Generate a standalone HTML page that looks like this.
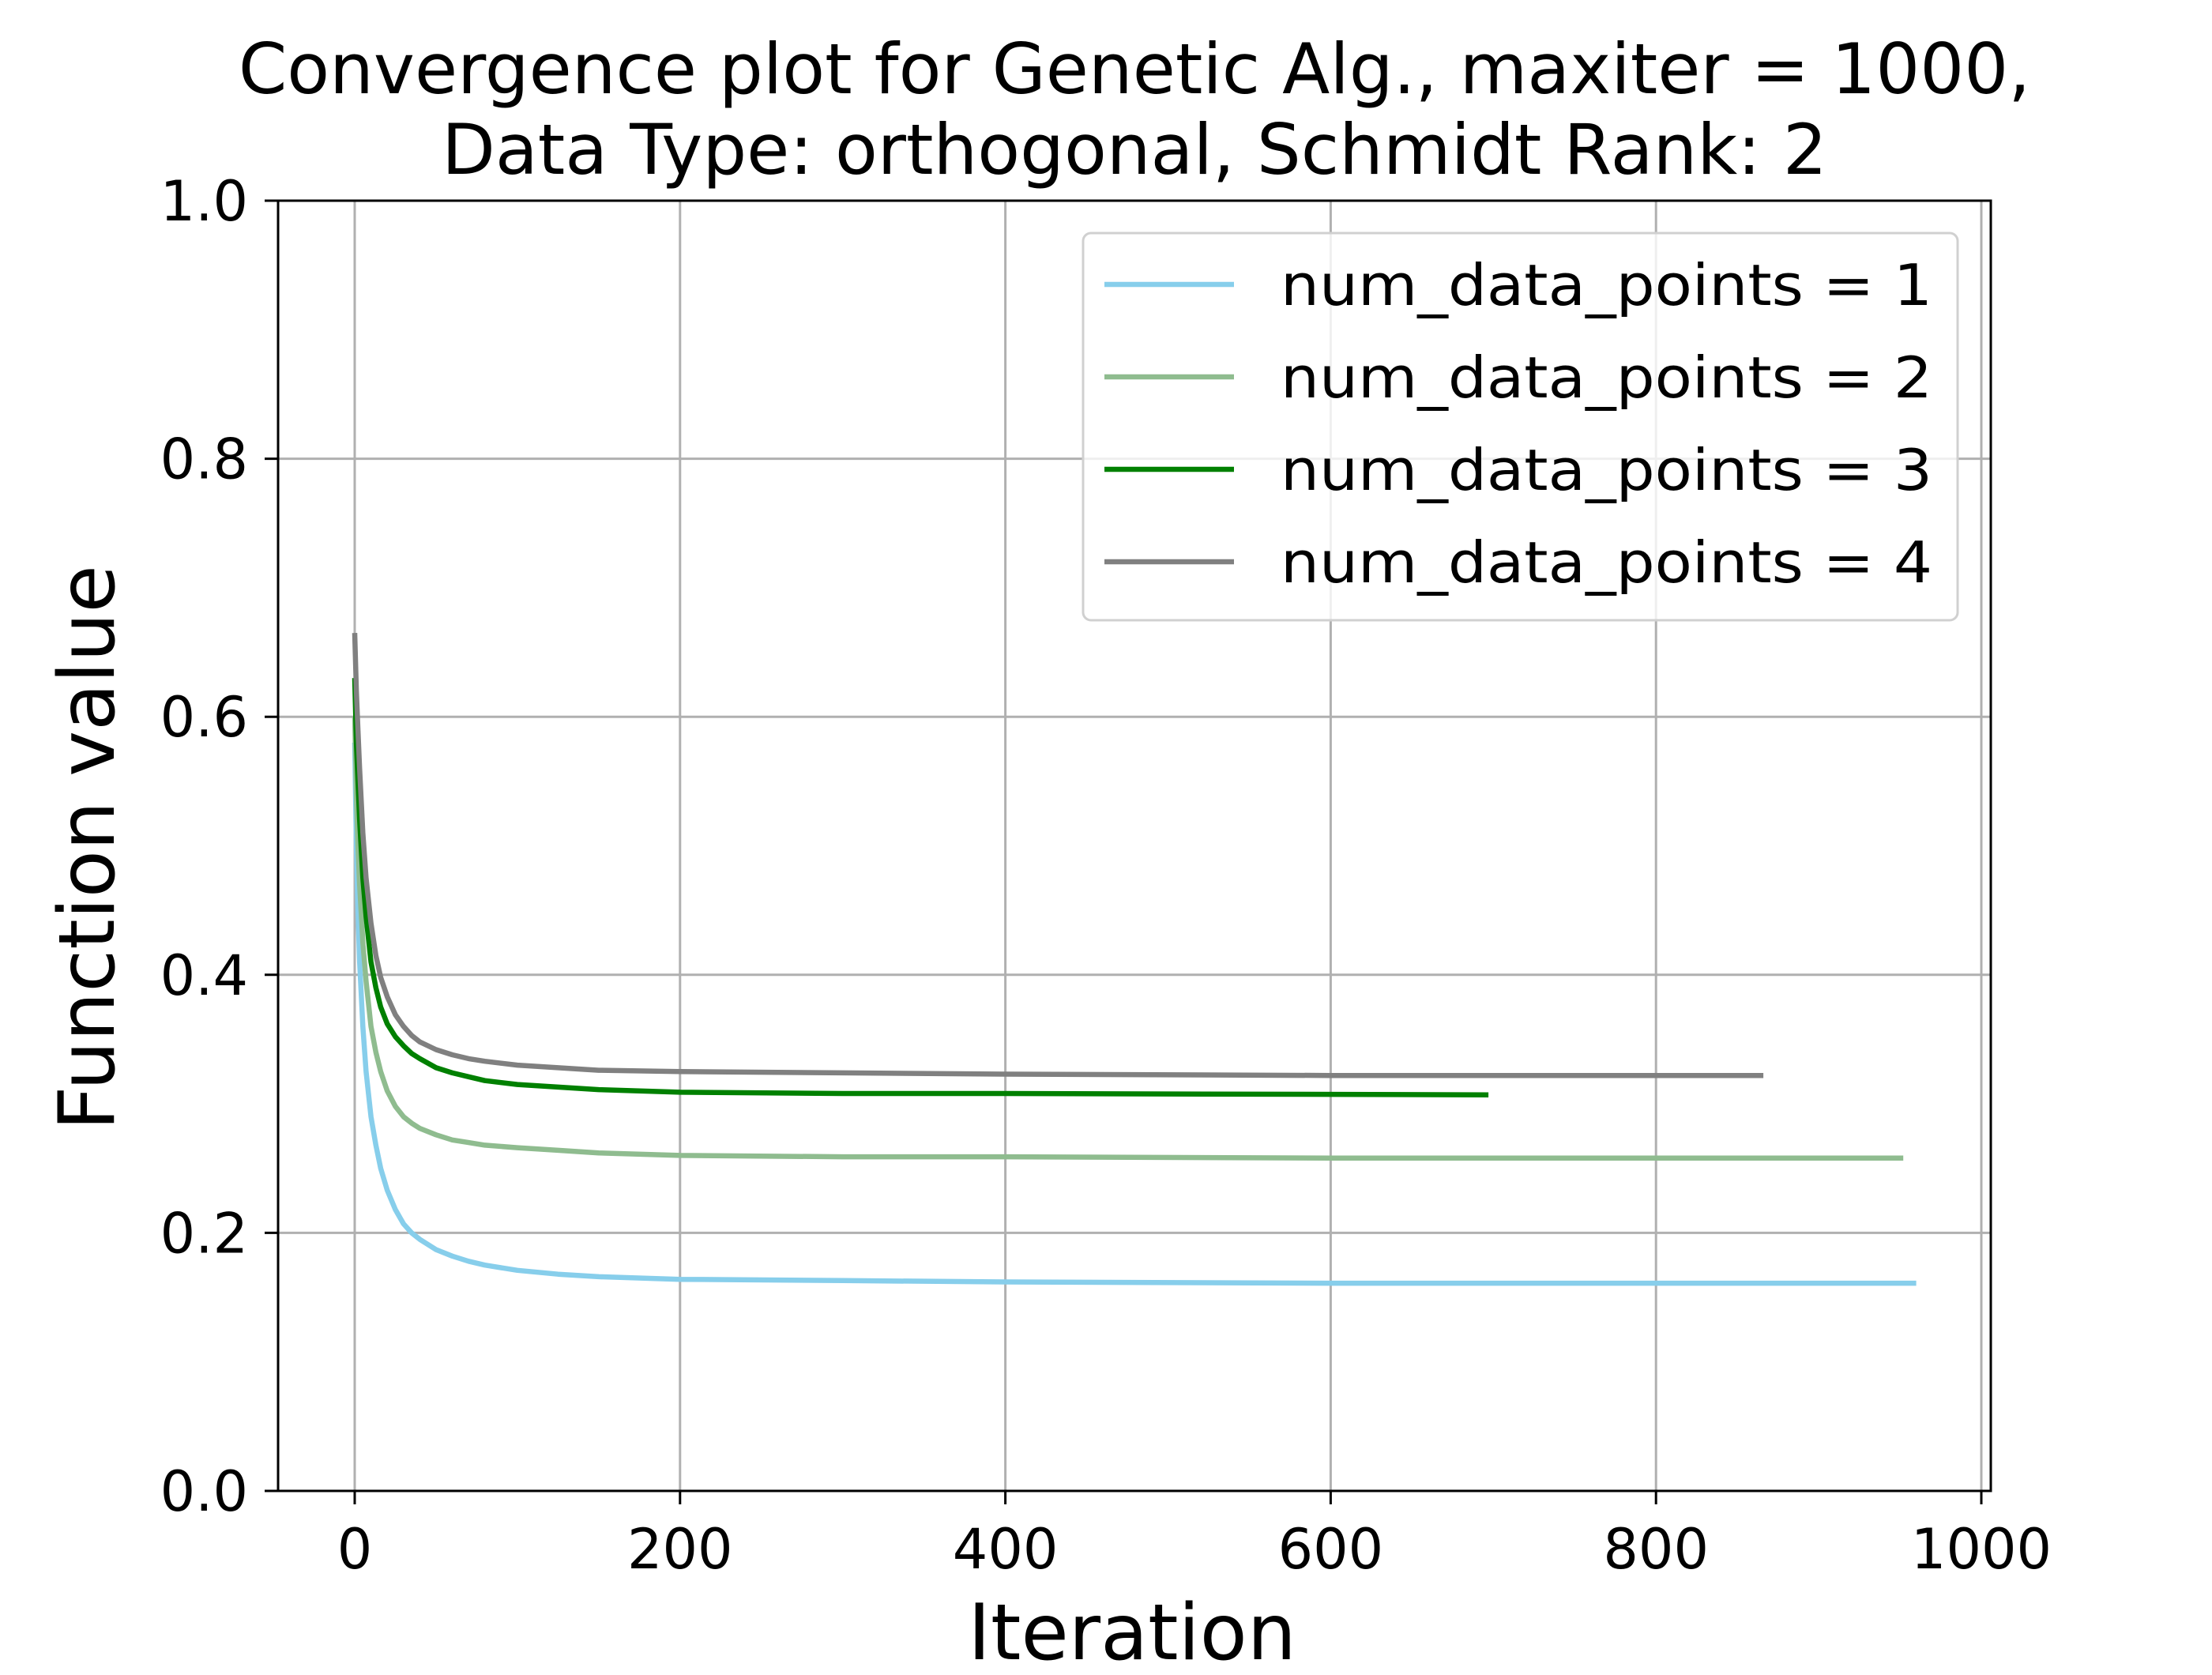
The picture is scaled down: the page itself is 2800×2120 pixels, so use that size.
<!DOCTYPE html>
<html><head><meta charset="utf-8"><style>
html,body{margin:0;padding:0;background:#fff;}
svg{display:block;}
text{font-family:"DejaVu Sans","Liberation Sans",sans-serif;fill:#000;}
</style></head><body>
<svg id="chart" width="2800" height="2120" viewBox="0 0 2800 2120">
<rect width="2800" height="2120" fill="#fff"/>
<text x="1436" y="118" font-size="88" text-anchor="middle">Convergence plot for Genetic Alg., maxiter = 1000,</text>
<text x="1436" y="220" font-size="88" text-anchor="middle">Data Type: orthogonal, Schmidt Rank: 2</text>
<g id="grid"></g>
<g id="series"></g>
<g id="axes"></g>
<text x="1433" y="2100" font-size="98" text-anchor="middle">Iteration</text>
<text transform="translate(144,1073) rotate(-90)" font-size="98" text-anchor="middle">Function value</text>
<g id="legend"></g>
</svg>
<script>
const xTicks = [0, 200, 400, 600, 800, 1000];
const yTicks = [0.0, 0.2, 0.4, 0.6, 0.8, 1.0];
const yTickLabels = ["0.0", "0.2", "0.4", "0.6", "0.8", "1.0"];
const seriesNames = ["num_data_points = 1", "num_data_points = 2", "num_data_points = 3", "num_data_points = 4"];
const seriesColors = ["#87CEEB", "#8FBC8F", "#008000", "#808080"];
const iter1 = [0, 1, 2, 3, 5, 7, 10, 13, 16, 20, 25, 30, 35, 40, 50, 60, 70, 80, 100, 125, 150, 200, 300, 400, 600, 960];
const vals1 = [0.58, 0.50, 0.45, 0.41, 0.36, 0.325, 0.29, 0.268, 0.250, 0.233, 0.218, 0.207, 0.200, 0.195, 0.187, 0.182, 0.178, 0.175, 0.171, 0.168, 0.166, 0.164, 0.163, 0.162, 0.161, 0.161];
const iter2 = [0, 1, 2, 3, 5, 7, 10, 13, 16, 20, 25, 30, 35, 40, 50, 60, 70, 80, 100, 125, 150, 200, 300, 400, 600, 952];
const vals2 = [0.60, 0.54, 0.50, 0.47, 0.425, 0.395, 0.36, 0.340, 0.325, 0.31, 0.298, 0.29, 0.285, 0.281, 0.276, 0.272, 0.270, 0.268, 0.266, 0.264, 0.262, 0.260, 0.259, 0.259, 0.258, 0.258];
const iter3 = [0, 1, 2, 3, 5, 7, 10, 13, 16, 20, 25, 30, 35, 40, 50, 60, 70, 80, 100, 125, 150, 200, 300, 400, 697];
const vals3 = [0.63, 0.58, 0.55, 0.52, 0.475, 0.445, 0.41, 0.39, 0.375, 0.362, 0.352, 0.345, 0.339, 0.335, 0.328, 0.324, 0.321, 0.318, 0.315, 0.313, 0.311, 0.309, 0.308, 0.308, 0.307];
const iter4 = [0, 1, 2, 3, 5, 7, 10, 13, 16, 20, 25, 30, 35, 40, 50, 60, 70, 80, 100, 125, 150, 200, 300, 400, 600, 866];
const vals4 = [0.665, 0.62, 0.59, 0.56, 0.51, 0.475, 0.44, 0.415, 0.398, 0.383, 0.369, 0.36, 0.353, 0.348, 0.342, 0.338, 0.335, 0.333, 0.330, 0.328, 0.326, 0.325, 0.324, 0.323, 0.322, 0.322];

const NS = "http://www.w3.org/2000/svg";
const L = 352, R = 2520, T = 254, B = 1887;
const X0 = 449, X1000 = 2508;
function xs(v){ return X0 + (X1000 - X0) * v / 1000; }
function ys(v){ return B - (B - T) * v; }
function mk(tag, attrs, parent){
  const e = document.createElementNS(NS, tag);
  for (const k in attrs) e.setAttribute(k, attrs[k]);
  parent.appendChild(e); return e;
}
const grid = document.getElementById('grid');
const axes = document.getElementById('axes');
xTicks.forEach((t) => {
  const g = mk('line', {x1: xs(t), x2: xs(t), y1: T, y2: B, stroke: '#b0b0b0', 'stroke-width': 3}, grid);
  
  
  const tk = mk('line', {x1: xs(t), x2: xs(t), y1: B, y2: B + 17, stroke: '#000', 'stroke-width': 3}, axes);
  
  
  const lb = mk('text', {x: xs(t), y: 1985, 'font-size': 70, 'text-anchor': 'middle'}, axes);
  lb.textContent = String(t);
  
  
});
yTicks.forEach((t, i) => {
  const g = mk('line', {x1: L, x2: R, y1: ys(t), y2: ys(t), stroke: '#b0b0b0', 'stroke-width': 3}, grid);
  
  
  const tk = mk('line', {x1: L - 17, x2: L, y1: ys(t), y2: ys(t), stroke: '#000', 'stroke-width': 3}, axes);
  
  
  const lb = mk('text', {x: L - 38, y: ys(t) + 25, 'font-size': 70, 'text-anchor': 'end'}, axes);
  lb.textContent = yTickLabels[i];
  
  
});
const frame = mk('rect', {x: L, y: T, width: R - L, height: B - T, fill: 'none', stroke: '#000', 'stroke-width': 3}, axes);



const seriesG = document.getElementById('series');
const iters = [iter1, iter2, iter3, iter4];
const vals = [vals1, vals2, vals3, vals4];
iters.forEach((it, s) => {
  const pts = it.map((x, i) => xs(x).toFixed(1) + ',' + ys(vals[s][i]).toFixed(1)).join(' ');
  const p = mk('polyline', {points: pts, fill: 'none', stroke: seriesColors[s], 'stroke-width': 6.5, 'stroke-linejoin': 'round'}, seriesG);
  
  
});

const leg = document.getElementById('legend');
const box = mk('rect', {x: 1371, y: 295, width: 1107, height: 490, rx: 10, fill: '#fff', 'fill-opacity': 0.8, stroke: '#d0d0d0', 'stroke-width': 3}, leg);


seriesNames.forEach((n, i) => {
  const y = 360 + i * 117;
  const ln = mk('line', {x1: 1398, x2: 1562, y1: y, y2: y, stroke: seriesColors[i], 'stroke-width': 6.5}, leg);
  
  
  const tx = mk('text', {x: 1621, y: y + 26, 'font-size': 72, textLength: 825, lengthAdjust: 'spacingAndGlyphs'}, leg);
  tx.textContent = n;
  
  
});
</script>
</body></html>
